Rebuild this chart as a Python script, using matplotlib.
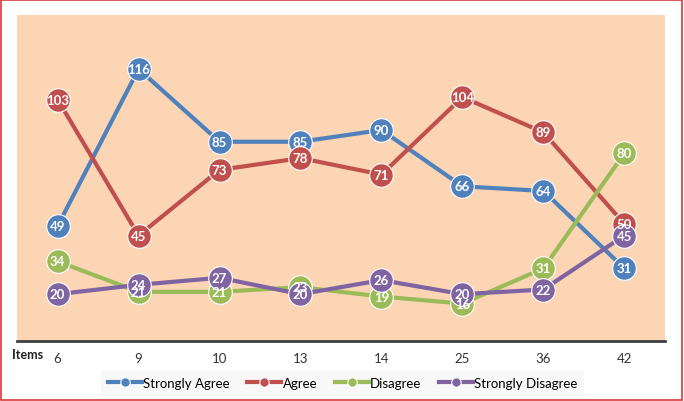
import matplotlib.pyplot as plt
from matplotlib.patches import Rectangle

# survey responses per item
items = ["6", "9", "10", "13", "14", "25", "36", "42"]
strongly_agree = [49, 116, 85, 85, 90, 66, 64, 31]
agree = [103, 45, 73, 78, 71, 104, 89, 50]
disagree = [34, 21, 21, 23, 19, 16, 31, 80]
strongly_disagree = [20, 24, 27, 20, 26, 20, 22, 45]

series = [
    ("Strongly Agree", strongly_agree, "#4F81BD"),
    ("Agree", agree, "#C0504D"),
    ("Disagree", disagree, "#9BBB59"),
    ("Strongly Disagree", strongly_disagree, "#8064A2"),
]

plt.rcParams['font.family'] = ['Lato', 'DejaVu Sans']

fig = plt.figure(figsize=(6.84, 4.02), dpi=100)
fig.patches.append(Rectangle((0.002, 0.003), 0.995, 0.994, transform=fig.transFigure,
                             fill=False, edgecolor="#D9383A", linewidth=1.2))
ax = fig.add_axes([0.025, 0.149, 0.947, 0.811])
ax.set_facecolor("#FCD5B5")

x = list(range(len(items)))
for name, vals, col in series:
    ax.plot(x, vals, color=col, linewidth=3, marker="o", markersize=17,
            markeredgecolor="white", markeredgewidth=0.8, label=name)

# data labels on top of every marker
for name, vals, col in series:
    for xi, v in zip(x, vals):
        ax.text(xi, v, str(v), color="white", fontsize=9.5, fontweight="bold",
                ha="center", va="center", zorder=5)

ax.set_xlim(-0.5, len(items) - 0.5)
ax.set_ylim(0, 139)
ax.set_yticks([])
ax.set_xticks(x)
ax.set_xticklabels(items, fontsize=9.5, color="#333333")
ax.tick_params(axis="x", length=0, pad=8)
for s in ["left", "right", "top"]:
    ax.spines[s].set_visible(False)
ax.spines["bottom"].set_color("#404040")
ax.spines["bottom"].set_linewidth(2)

fig.text(0.018, 0.118, "Items", fontsize=9, fontweight="bold", color="#222222",
         ha="left", va="center")

leg = fig.legend(loc="center", bbox_to_anchor=(0.501, 0.045), ncol=4, frameon=True,
                 fontsize=9.5, handlelength=2.6, handletextpad=0.1, columnspacing=1.3,
                 markerscale=0.4, borderpad=0.5)
leg.get_frame().set_facecolor("#F7F7F7")
leg.get_frame().set_edgecolor("none")
leg.get_frame().set_boxstyle("square", pad=0)

fig.savefig("out.png", dpi=100)
